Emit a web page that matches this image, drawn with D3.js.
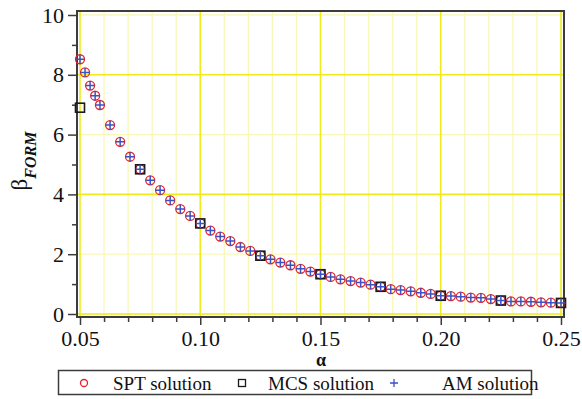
<!DOCTYPE html>
<html>
<head>
<meta charset="utf-8">
<script src="https://cdn.jsdelivr.net/npm/d3@7"></script>
</head>
<body style="margin:0;background:#fff">
<svg id="chart" width="582" height="399" font-family="Liberation Serif" style="font-family:'Liberation Serif'"></svg>
<script>
// Reliability index beta_FORM as a function of alpha
const alpha = [0.05, 0.0521, 0.0542, 0.0563, 0.0583, 0.0625, 0.0667, 0.0708, 0.075,
  0.0792, 0.0833, 0.0875, 0.0917, 0.0958, 0.1, 0.1042, 0.1083, 0.1125, 0.1167, 0.1208,
  0.125, 0.1292, 0.1333, 0.1375, 0.1417, 0.1458, 0.15, 0.1542, 0.1583, 0.1625, 0.1667,
  0.1708, 0.175, 0.1792, 0.1833, 0.1875, 0.1917, 0.1958, 0.2, 0.2042, 0.2083, 0.2125,
  0.2167, 0.2208, 0.225, 0.2292, 0.2333, 0.2375, 0.2417, 0.2458, 0.25];
const sptBeta = [8.52, 8.08, 7.64, 7.30, 6.99, 6.32, 5.76, 5.26, 4.84,
  4.47, 4.14, 3.80, 3.51, 3.28, 3.03, 2.79, 2.59, 2.44, 2.24, 2.11,
  1.95, 1.83, 1.72, 1.63, 1.51, 1.42, 1.33, 1.24, 1.16, 1.10, 1.05,
  0.98, 0.91, 0.83, 0.80, 0.76, 0.71, 0.67, 0.61, 0.60, 0.58, 0.55,
  0.54, 0.50, 0.45, 0.42, 0.42, 0.41, 0.39, 0.38, 0.37];
const amBeta = [8.52, 8.08, 7.64, 7.30, 6.99, 6.32, 5.76, 5.26, 4.84,
  4.47, 4.14, 3.80, 3.51, 3.28, 3.03, 2.79, 2.59, 2.44, 2.24, 2.11,
  1.95, 1.83, 1.72, 1.63, 1.51, 1.42, 1.33, 1.24, 1.16, 1.10, 1.05,
  0.98, 0.91, 0.83, 0.80, 0.76, 0.71, 0.67, 0.61, 0.60, 0.58, 0.55,
  0.54, 0.50, 0.45, 0.42, 0.42, 0.41, 0.39, 0.38, 0.37];
const mcsAlpha = [0.05, 0.075, 0.1, 0.125, 0.15, 0.175, 0.2, 0.225, 0.25];
const mcsBeta = [6.90, 4.84, 3.03, 1.95, 1.33, 0.91, 0.61, 0.45, 0.37];

const xMajor = [0.05, 0.10, 0.15, 0.20, 0.25];
const xMinor = [0.06, 0.07, 0.08, 0.09, 0.11, 0.12, 0.13, 0.14, 0.16, 0.17, 0.18, 0.19,
  0.21, 0.22, 0.23, 0.24];
const yMajor = [0, 2, 4, 6, 8, 10];
const yMinor = [1, 3, 5, 7, 9];
const yGridStrong = [0, 4, 8];
const yGridLight = [2, 6, 10];

const legendItems = ["SPT solution", "MCS solution", "AM solution"];

const serifName = "Liberation Serif";
const svg = d3.select("#chart");
const x = d3.scaleLinear().domain([0.05, 0.25]).range([80, 561]);
const y = d3.scaleLinear().domain([0, 10]).range([314, 15]);

const frame = { left: 77, top: 11, right: 564, bottom: 317 };
const strongGrid = "#eeea1c", lightGrid = "#f9f7b8";
const red = "#e8232b", blue = "#3a52c4", dark = "#3c3c3c";

// apply the serif face both as attribute and inline style
function serifText(sel, size) {
  return sel.attr("font-family", serifName).attr("font-size", size)
    .style("font-family", `"${serifName}"`).style("font-size", `${size}px`);
}

// grid
const grid = svg.append("g");
grid.selectAll(".vl").data(xMinor).join("line")
  .attr("x1", d => x(d)).attr("x2", d => x(d))
  .attr("y1", frame.top).attr("y2", frame.bottom)
  .attr("stroke", lightGrid).attr("stroke-width", 1.3);
grid.selectAll(".hl").data(yGridLight).join("line")
  .attr("y1", d => y(d)).attr("y2", d => y(d))
  .attr("x1", frame.left).attr("x2", frame.right)
  .attr("stroke", lightGrid).attr("stroke-width", 1.3);
grid.selectAll(".vs").data(xMajor).join("line")
  .attr("x1", d => x(d)).attr("x2", d => x(d))
  .attr("y1", frame.top).attr("y2", frame.bottom)
  .attr("stroke", strongGrid).attr("stroke-width", 1.6);
grid.selectAll(".hs").data(yGridStrong).join("line")
  .attr("y1", d => y(d)).attr("y2", d => y(d))
  .attr("x1", frame.left).attr("x2", frame.right)
  .attr("stroke", strongGrid).attr("stroke-width", 1.6);

// frame
svg.append("rect")
  .attr("x", frame.left).attr("y", frame.top)
  .attr("width", frame.right - frame.left).attr("height", frame.bottom - frame.top)
  .attr("fill", "none").attr("stroke", dark).attr("stroke-width", 2);

// axes
function styleAxis(g) {
  g.attr("font-family", serifName);
  g.select(".domain").remove();
  g.selectAll(".tick line").attr("stroke", dark).attr("stroke-width", 1.5);
  serifText(g.selectAll(".tick text"), 22).attr("fill", "#111");
}
svg.append("g").attr("transform", `translate(0,${frame.bottom})`)
  .call(d3.axisBottom(x).tickValues(xMajor).tickSize(8).tickPadding(5).tickFormat(d3.format(".2f")))
  .call(styleAxis);
svg.append("g").attr("transform", `translate(0,${frame.bottom})`)
  .call(d3.axisBottom(x).tickValues(xMinor).tickSize(5).tickFormat(""))
  .call(styleAxis);
svg.append("g").attr("transform", `translate(${frame.left},0)`)
  .call(d3.axisLeft(y).tickValues(yMajor).tickSize(9).tickPadding(4).tickFormat(d3.format("d")))
  .call(styleAxis);
svg.append("g").attr("transform", `translate(${frame.left},0)`)
  .call(d3.axisLeft(y).tickValues(yMinor).tickSize(5).tickFormat(""))
  .call(styleAxis);

// axis titles
serifText(svg.append("text"), 18).attr("x", 321).attr("y", 366).attr("text-anchor", "middle")
  .attr("font-weight", "bold").attr("fill", "#111").text("α");
const yt = serifText(svg.append("text"), 23)
  .attr("transform", "translate(27,161) rotate(-90)")
  .attr("text-anchor", "middle").attr("fill", "#111");
serifText(yt.append("tspan"), 23).text("β");
serifText(yt.append("tspan"), 16).attr("dy", 9)
  .attr("font-style", "italic").attr("font-weight", "bold").text("FORM");

// marks
const spt = alpha.map((a, i) => ({ a, b: sptBeta[i] }));
const am = alpha.map((a, i) => ({ a, b: amBeta[i] }));
const mcs = mcsAlpha.map((a, i) => ({ a, b: mcsBeta[i] }));

svg.append("g").selectAll("circle").data(spt).join("circle")
  .attr("cx", d => x(d.a)).attr("cy", d => y(d.b)).attr("r", 4.5)
  .attr("fill", "none").attr("stroke", red).attr("stroke-width", 1.3);
svg.append("g").selectAll("rect").data(mcs).join("rect")
  .attr("x", d => x(d.a) - 4.5).attr("y", d => y(d.b) - 4.5)
  .attr("width", 9).attr("height", 9)
  .attr("fill", "none").attr("stroke", "#1a1a1a").attr("stroke-width", 1.6);
svg.append("g").selectAll("path").data(am).join("path")
  .attr("transform", d => `translate(${x(d.a)},${y(d.b)})`)
  .attr("d", "M-4.5,0H4.5M0,-4.5V4.5")
  .attr("fill", "none").attr("stroke", blue).attr("stroke-width", 1.5);

// legend
const lg = svg.append("g");
lg.append("rect").attr("x", 58.5).attr("y", 370.5).attr("width", 473).attr("height", 24)
  .attr("fill", "#fff").attr("stroke", dark).attr("stroke-width", 1.5);
const markX = [84, 242, 394];
const textX = [113, 268, 442];
lg.append("circle").attr("cx", markX[0]).attr("cy", 383).attr("r", 3.5)
  .attr("fill", "none").attr("stroke", red).attr("stroke-width", 1.3);
lg.append("rect").attr("x", markX[1] - 3.5).attr("y", 379.5).attr("width", 7).attr("height", 7)
  .attr("fill", "none").attr("stroke", "#1a1a1a").attr("stroke-width", 1.3);
lg.append("path").attr("transform", `translate(${markX[2]},383)`)
  .attr("d", "M-4,0H4M0,-4V4").attr("stroke", blue).attr("stroke-width", 1.3);
serifText(lg.selectAll("text").data(legendItems).join("text"), 19)
  .attr("x", (d, i) => textX[i]).attr("y", 390).attr("fill", "#111").text(d => d);
</script>
</body>
</html>
